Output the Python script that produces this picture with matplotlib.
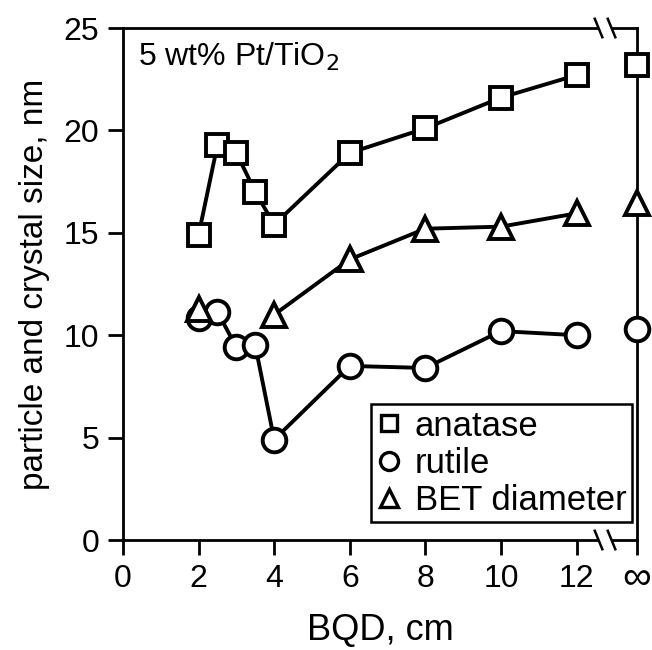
import matplotlib
matplotlib.use("Agg")
import matplotlib.pyplot as plt
import matplotlib.transforms as mtransforms
import numpy as np
from matplotlib.lines import Line2D

plt.rcParams['font.family'] = ['Liberation Sans', 'DejaVu Sans']

INF_X = 13.6

anatase_x = [2, 2.5, 3, 3.5, 4, 6, 8, 10, 12]
anatase_y = [14.9, 19.3, 18.9, 17.0, 15.4, 18.9, 20.1, 21.6, 22.7]
anatase_inf = 23.2

rutile_x = [2, 2.5, 3, 3.5, 4, 6, 8, 10, 12]
rutile_y = [10.85, 11.15, 9.4, 9.5, 4.9, 8.5, 8.4, 10.2, 10.0]
rutile_inf = 10.3

bet_x_single = [2]
bet_y_single = [11.3]
bet_x = [4, 6, 8, 10, 12]
bet_y = [11.0, 13.7, 15.2, 15.3, 15.95]
bet_inf = 16.45

xticks = [0, 2, 4, 6, 8, 10, 12]
yticks = [0, 5, 10, 15, 20, 25]

fig = plt.figure(figsize=(6.52, 6.5), dpi=100)
ax = fig.add_axes([123/652, 1-540/650, (637-123)/652, (540-28)/650])

MEW = 2.8
LW = 2.8
mk = dict(markerfacecolor='white', markeredgecolor='black', markeredgewidth=MEW,
          color='black', clip_on=False, zorder=3)

ax.plot(anatase_x, anatase_y, marker='s', markersize=16, linewidth=LW, **mk)
ax.plot(rutile_x, rutile_y, marker='o', markersize=17, linewidth=LW, **mk)
ax.plot(bet_x, bet_y, marker='^', markersize=17, linewidth=LW, **mk)
ax.plot(bet_x_single, bet_y_single, marker='^', markersize=17, linestyle='none', **mk)
ax.plot([INF_X], [anatase_inf], marker='s', markersize=16, linestyle='none', **mk)
ax.plot([INF_X], [rutile_inf], marker='o', markersize=17, linestyle='none', **mk)
ax.plot([INF_X], [bet_inf], marker='^', markersize=17, linestyle='none', **mk)

lk = dict(linestyle='none', markerfacecolor='white', markeredgecolor='black', markeredgewidth=2.4)
handles = [Line2D([], [], marker='s', markersize=12, **lk),
           Line2D([], [], marker='o', markersize=13, **lk),
           Line2D([], [], marker='^', markersize=13, **lk)]
leg = ax.legend(handles, ['anatase', 'rutile', 'BET diameter'], loc='lower right',
                bbox_to_anchor=(0.99, 0.035), fontsize=25, frameon=True, fancybox=False,
                handlelength=0.7, handletextpad=0.4, borderpad=0.15, labelspacing=0.12,
                borderaxespad=0.0)
leg.get_frame().set_edgecolor('black')
leg.get_frame().set_linewidth(1.8)
leg.get_frame().set_alpha(1)

ax.set_xlim(0, INF_X)
ax.set_ylim(0, 25)
ax.set_xticks(xticks + [INF_X])
ax.set_xticklabels([str(t) for t in xticks] + ['∞'])
ax.set_yticks(yticks)
ax.tick_params(direction='out', length=11, width=2, labelsize=23, pad=6)
inf_lbl = ax.get_xticklabels()[-1]
inf_lbl.set_fontsize(29)
inf_lbl.set_transform(inf_lbl.get_transform() +
                      mtransforms.ScaledTranslation(0, 3/72, fig.dpi_scale_trans))
for s in ax.spines.values():
    s.set_linewidth(2)
ax.set_xlabel('BQD, cm', fontsize=26)
ax.xaxis.set_label_coords(0.5, -0.176)
ax.xaxis.label.set_va('center')
ax.set_ylabel('particle and crystal size, nm', fontsize=24, labelpad=10)

ax.text(0.03, 0.975, r'5 wt% Pt/TiO$_2$', transform=ax.transAxes, fontsize=23,
        va='top', ha='left')

# axis break marks
def xdata(px):
    return (px - 123) / 37.83
g0, g1 = xdata(599), xdata(612)
for yv in (0, 25):
    ax.plot([g0, g1], [yv, yv], color='white', linewidth=4, clip_on=False, zorder=5,
            solid_capstyle='butt')
    for gx in (g0, g1):
        ax.plot([gx - 0.1, gx + 0.1], [yv + 0.45, yv - 0.45], color='black',
                linewidth=1.8, clip_on=False, zorder=6)

fig.savefig('out.png', dpi=100)
